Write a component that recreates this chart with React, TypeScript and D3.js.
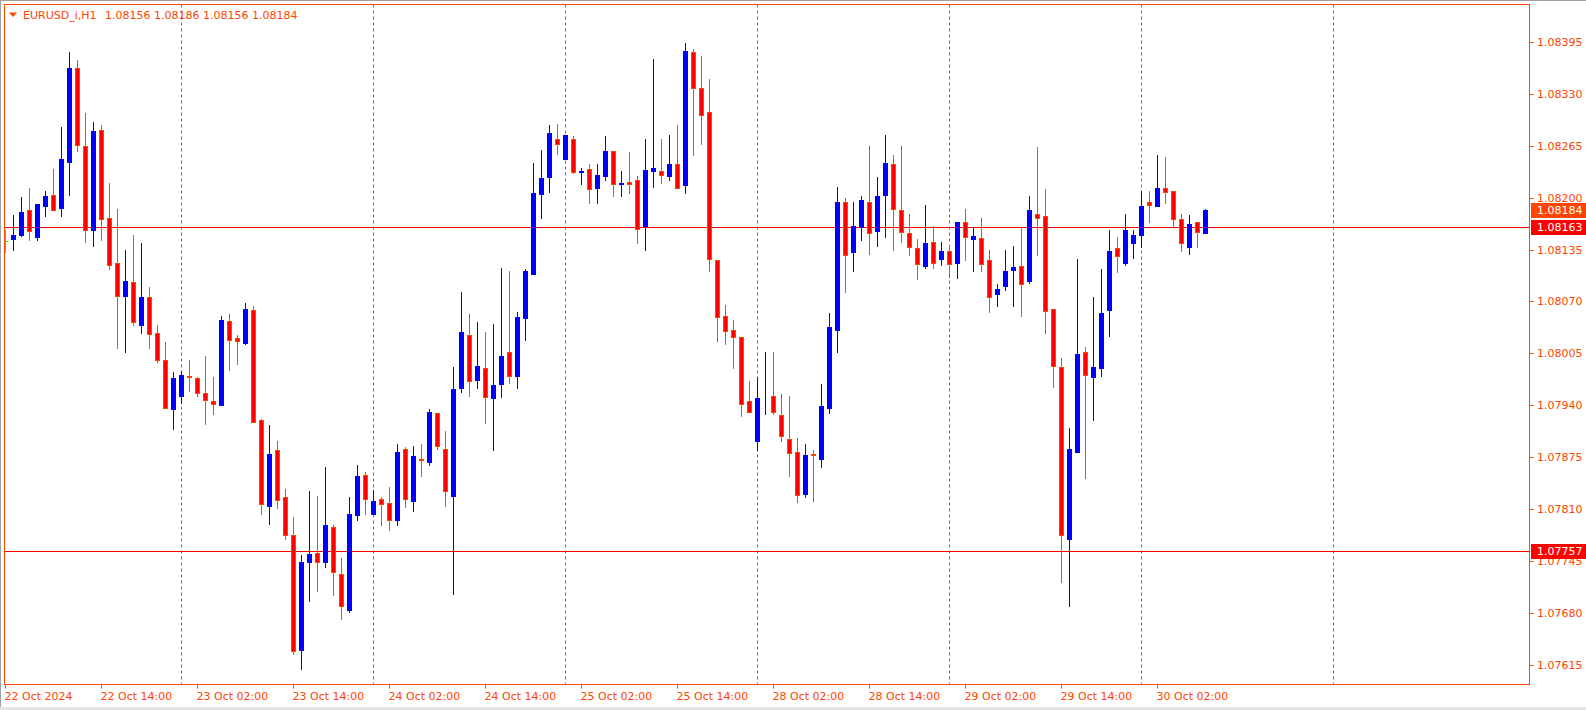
import React from "react";
import * as d3 from "d3";

// ---- data (EURUSD_i, H1) : candle index 1 = 22 Oct 2024 03:00, hourly ----
const OPEN = [1.08148,1.08153,1.08184,1.08151,1.08190,1.08203,1.08187,1.08245,1.08362,1.08265,1.08160,1.08285,1.08175,1.08118,1.08077,1.08094,1.08041,1.08076,1.08030,1.07996,1.07935,1.07952,1.07976,1.07974,1.07955,1.07945,1.07940,1.08045,1.08024,1.08018,1.08059,1.07921,1.07814,1.07884,1.07825,1.07777,1.07633,1.07744,1.07755,1.07744,1.07787,1.07728,1.07683,1.07802,1.07852,1.07804,1.07822,1.07818,1.07796,1.07885,1.07820,1.07872,1.07869,1.07930,1.07885,1.07826,1.07961,1.08028,1.07971,1.07987,1.07949,1.07966,1.08007,1.07977,1.08049,1.08104,1.08204,1.08226,1.08274,1.08249,1.08273,1.08232,1.08236,1.08212,1.08227,1.08259,1.08217,1.08220,1.08222,1.08164,1.08234,1.08234,1.08227,1.08242,1.08216,1.08383,1.08337,1.08307,1.08122,1.08052,1.08034,1.08025,1.07945,1.07895,1.07951,1.07952,1.07928,1.07898,1.07881,1.07829,1.07879,1.07872,1.07937,1.08034,1.08194,1.08132,1.08163,1.08195,1.08158,1.08203,1.08242,1.08185,1.08156,1.08137,1.08114,1.08144,1.08123,1.08133,1.08118,1.08169,1.08148,1.08150,1.08122,1.08079,1.08089,1.08109,1.08114,1.08096,1.08180,1.08177,1.08061,1.07988,1.07772,1.07881,1.08007,1.07975,1.07986,1.08059,1.08137,1.08118,1.08143,1.08153,1.08195,1.08189,1.08212,1.08208,1.08173,1.08138,1.08169,1.08156];
const HIGH = [1.08178,1.08201,1.08212,1.08192,1.08208,1.08236,1.08289,1.08383,1.08372,1.08306,1.08295,1.08291,1.08218,1.08186,1.08134,1.08153,1.08143,1.08088,1.08040,1.08019,1.07982,1.07983,1.07996,1.07975,1.08001,1.07975,1.08052,1.08054,1.08028,1.08068,1.08064,1.07923,1.07915,1.07895,1.07835,1.07800,1.07752,1.07832,1.07826,1.07863,1.07790,1.07749,1.07825,1.07865,1.07856,1.07834,1.07825,1.07838,1.07891,1.07887,1.07889,1.07891,1.07935,1.07930,1.07908,1.07988,1.08082,1.08054,1.08044,1.08032,1.08042,1.08112,1.08108,1.08057,1.08110,1.08244,1.08260,1.08291,1.08292,1.08279,1.08277,1.08237,1.08242,1.08242,1.08277,1.08259,1.08233,1.08257,1.08227,1.08274,1.08374,1.08274,1.08278,1.08291,1.08394,1.08386,1.08377,1.08349,1.08122,1.08066,1.08047,1.08025,1.07970,1.07975,1.08007,1.08007,1.07954,1.07951,1.07899,1.07891,1.07884,1.07967,1.08055,1.08213,1.08199,1.08195,1.08202,1.08265,1.08226,1.08278,1.08254,1.08265,1.08180,1.08148,1.08191,1.08165,1.08144,1.08140,1.08170,1.08186,1.08163,1.08174,1.08134,1.08092,1.08134,1.08139,1.08163,1.08202,1.08263,1.08211,1.08061,1.07999,1.07912,1.08123,1.08013,1.08075,1.08111,1.08160,1.08151,1.08180,1.08159,1.08208,1.08208,1.08254,1.08251,1.08208,1.08179,1.08178,1.08169,1.08186];
const LOW = [1.08135,1.08152,1.08147,1.08147,1.08177,1.08184,1.08177,1.08203,1.08258,1.08144,1.08139,1.08147,1.08111,1.08011,1.08007,1.08040,1.08030,1.08012,1.07994,1.07936,1.07910,1.07943,1.07958,1.07952,1.07916,1.07929,1.07940,1.07984,1.07992,1.08017,1.07919,1.07804,1.07791,1.07811,1.07772,1.07628,1.07610,1.07694,1.07707,1.07737,1.07702,1.07672,1.07681,1.07796,1.07804,1.07804,1.07790,1.07783,1.07790,1.07813,1.07808,1.07851,1.07865,1.07885,1.07814,1.07703,1.07956,1.07951,1.07962,1.07918,1.07884,1.07950,1.07968,1.07962,1.08022,1.08104,1.08175,1.08207,1.08255,1.08249,1.08231,1.08217,1.08193,1.08193,1.08222,1.08202,1.08202,1.08206,1.08143,1.08134,1.08213,1.08218,1.08222,1.08212,1.08206,1.08254,1.08267,1.08108,1.08021,1.08017,1.07986,1.07927,1.07931,1.07884,1.07929,1.07929,1.07895,1.07851,1.07819,1.07825,1.07820,1.07862,1.07930,1.08007,1.08082,1.08108,1.08147,1.08130,1.08140,1.08151,1.08134,1.08145,1.08128,1.08098,1.08112,1.08112,1.08115,1.08101,1.08099,1.08122,1.08108,1.08108,1.08057,1.08064,1.08084,1.08064,1.08052,1.08093,1.08128,1.08031,1.07963,1.07719,1.07688,1.07881,1.07849,1.07922,1.07976,1.08027,1.08107,1.08115,1.08124,1.08138,1.08169,1.08189,1.08193,1.08165,1.08133,1.08130,1.08138,1.08156];
const CLOSE = [1.08153,1.08182,1.08158,1.08192,1.08202,1.08185,1.08249,1.08363,1.08266,1.08160,1.08284,1.08173,1.08115,1.08077,1.08096,1.08044,1.08076,1.08029,1.07996,1.07937,1.07974,1.07978,1.07975,1.07955,1.07946,1.07941,1.08047,1.08022,1.08021,1.08060,1.07919,1.07816,1.07879,1.07821,1.07777,1.07632,1.07743,1.07753,1.07743,1.07790,1.07731,1.07688,1.07804,1.07851,1.07822,1.07820,1.07816,1.07796,1.07881,1.07822,1.07876,1.07871,1.07931,1.07889,1.07832,1.07960,1.08032,1.07970,1.07989,1.07950,1.07965,1.08001,1.07976,1.08050,1.08108,1.08206,1.08225,1.08281,1.08267,1.08278,1.08232,1.08234,1.08211,1.08229,1.08259,1.08217,1.08218,1.08217,1.08161,1.08235,1.08237,1.08229,1.08242,1.08212,1.08384,1.08338,1.08304,1.08123,1.08050,1.08033,1.08026,1.07941,1.07932,1.07949,1.07952,1.07931,1.07901,1.07880,1.07827,1.07877,1.07877,1.07939,1.08038,1.08194,1.08128,1.08164,1.08197,1.08156,1.08202,1.08244,1.08186,1.08157,1.08138,1.08117,1.08143,1.08118,1.08133,1.08117,1.08170,1.08151,1.08152,1.08117,1.08076,1.08085,1.08108,1.08113,1.08092,1.08185,1.08175,1.08058,1.07989,1.07777,1.07885,1.08004,1.07978,1.07988,1.08055,1.08133,1.08127,1.08160,1.08153,1.08190,1.08191,1.08212,1.08207,1.08173,1.08143,1.08167,1.08157,1.08184];

// partially visible bar at the left edge (22 Oct 02:00)
const EDGE_BAR = { high: 1.08159, low: 1.08131, close: 1.08146 };

const X_TICK_LABELS = ["22 Oct 2024","22 Oct 14:00","23 Oct 02:00","23 Oct 14:00","24 Oct 02:00","24 Oct 14:00","25 Oct 02:00","25 Oct 14:00","28 Oct 02:00","28 Oct 14:00","29 Oct 02:00","29 Oct 14:00","30 Oct 02:00"];
const X_TICK_STEP = 12; // bars between date labels
const DAY_SEPARATORS = [22, 46, 70, 94, 118, 142, 166]; // bar index of each 00:00
const Y_TICKS = [1.08395,1.08330,1.08265,1.08200,1.08135,1.08070,1.08005,1.07940,1.07875,1.07810,1.07745,1.07680,1.07615];
const H_LINES = [1.08163, 1.07757];
const LAST_PRICE = 1.08184;
const SYMBOL = "EURUSD_i,H1";

const W = 1586, H = 710;
const PL = 4.5, PT = 4.5, PR = 1529.5, PB = 684.5;
const OR = "#FF4500";
const RED = "#FF0000";
const BLUE = "#0000FF";
const FONT = "DejaVu Sans";

export default function App() {
  const x = d3.scaleLinear().domain([0, 190]).range([5.5, 5.5 + 8 * 190]);
  const y = d3.scaleLinear().domain([1.0759, 1.08442]).range([PB, PT]);
  const ry = (v: number) => Math.round(y(v));

  const candles = OPEN.map((o, k) => {
    const i = k + 1;
    const c = CLOSE[k], h = HIGH[k], l = LOW[k];
    const up = c > o;
    const cx = x(i);
    const top = ry(Math.max(o, c));
    const bot = ry(Math.min(o, c));
    const col = up ? BLUE : OR;
    return (
      <g key={i}>
        <line x1={cx} x2={cx} y1={ry(h)} y2={ry(l) + 1} stroke={col} strokeWidth={1} />
        <rect x={cx - 2} y={top + 0.5} width={4} height={Math.max(0, bot - top)}
          fill={up ? BLUE : RED} stroke={col} strokeWidth={1} />
      </g>
    );
  });

  const lastO = OPEN[OPEN.length - 1], lastH = HIGH[HIGH.length - 1], lastL = LOW[LOW.length - 1], lastC = CLOSE[CLOSE.length - 1];
  const fmt = (v: number) => v.toFixed(5);

  return (
    <svg width={W} height={H} style={{ position: "absolute", left: 0, top: 0, display: "block" }}
      fontFamily={FONT} fontSize={11}>
      <defs>
        <clipPath id="plot">
          <rect x={PL} y={PT} width={PR - PL} height={PB - PT} />
        </clipPath>
      </defs>
      <rect x={0} y={0} width={W} height={H} fill="#fff" />
      <line x1={0} x2={W} y1={0.5} y2={0.5} stroke="#a0a0a0" />
      <line x1={0.5} x2={0.5} y1={0} y2={H} stroke="#a0a0a0" />
      <rect x={0} y={707} width={W} height={3} fill="#e4e4e4" />

      <g clipPath="url(#plot)">
        {DAY_SEPARATORS.map((s) => (
          <line key={s} x1={x(s)} x2={x(s)} y1={PT} y2={PB} stroke={OR} strokeDasharray="3,3" />
        ))}
        {H_LINES.map((p) => (
          <line key={p} x1={PL} x2={PR} y1={ry(p) + 0.5} y2={ry(p) + 0.5} stroke={RED} />
        ))}
        <line x1={x(0)} x2={x(0)} y1={ry(EDGE_BAR.high)} y2={ry(EDGE_BAR.low)} stroke="#00FF00" />
        <line x1={x(0)} x2={x(0) + 3} y1={ry(EDGE_BAR.close) + 0.5} y2={ry(EDGE_BAR.close) + 0.5} stroke="#00FF00" />
        {candles}
      </g>

      <rect x={PL} y={PT} width={PR - PL} height={PB - PT} fill="none" stroke={OR} />

      {/* header */}
      <polygon points="9,12.5 17,12.5 13,17" fill={OR} />
      <text x={23} y={18.5} fill={OR}>{SYMBOL}</text>
      <text x={105} y={18.5} fill={OR}>{`${fmt(lastO)} ${fmt(lastH)} ${fmt(lastL)} ${fmt(lastC)}`}</text>

      {/* x axis */}
      {X_TICK_LABELS.map((lab, k) => {
        const tx = x(k * X_TICK_STEP);
        return (
          <g key={lab}>
            <line x1={tx} x2={tx} y1={PB} y2={PB + 4} stroke={OR} />
            <text x={tx - 1} y={700} fill={OR}>{lab}</text>
          </g>
        );
      })}

      {/* y axis */}
      {Y_TICKS.map((v) => (
        <g key={v}>
          <line x1={PR} x2={PR + 4} y1={ry(v) + 0.5} y2={ry(v) + 0.5} stroke={OR} />
          <text x={1537} y={ry(v) + 0.5} dy="0.35em" fill={OR}>{fmt(v)}</text>
        </g>
      ))}

      {/* price labels */}
      {[{ p: LAST_PRICE, c: OR }, { p: H_LINES[0], c: RED }, { p: H_LINES[1], c: RED }].map(({ p, c }) => (
        <g key={`b${p}`}>
          <rect x={1531} y={ry(p) - 7} width={55} height={15} fill={c} />
          <text x={1537} y={ry(p) + 0.5} dy="0.35em" fill="#fff">{fmt(p)}</text>
        </g>
      ))}
    </svg>
  );
}
